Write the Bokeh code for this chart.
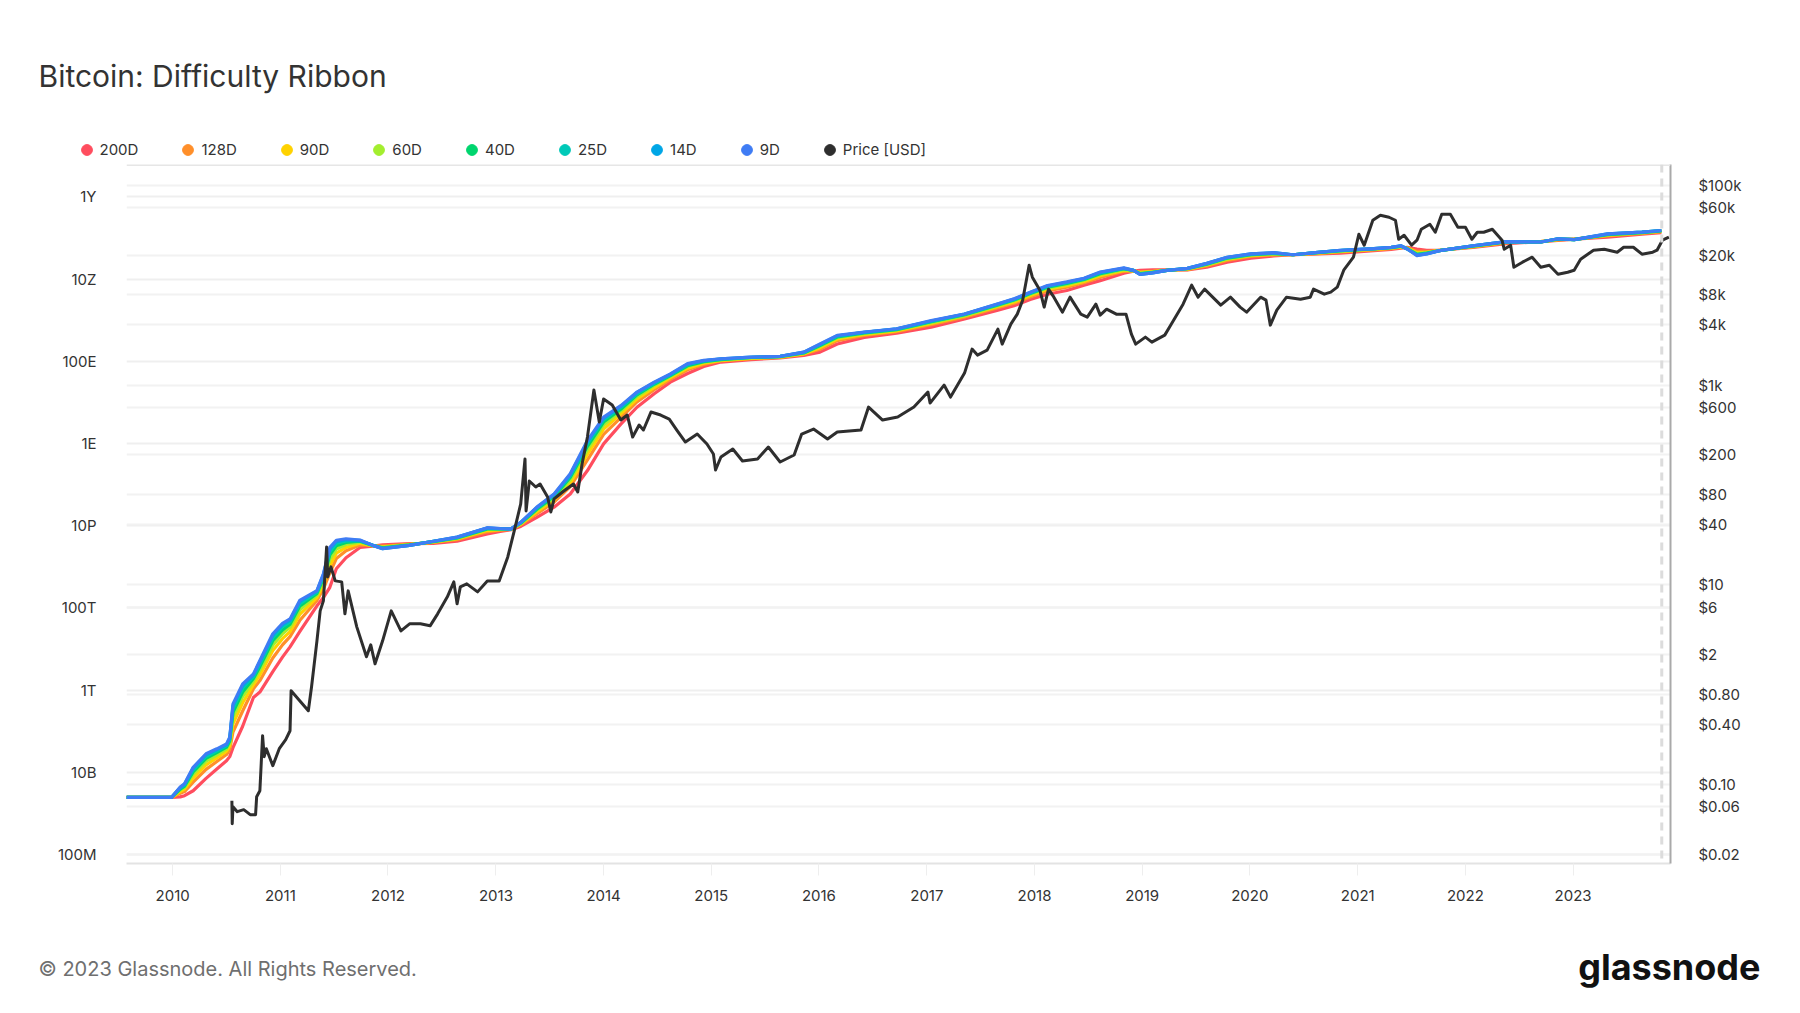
from datetime import datetime
import numpy as np
from bokeh.plotting import figure
from bokeh.layouts import column
from bokeh.models import (Range1d, LogScale, LogAxis, FixedTicker, Legend, LegendItem,
                          Label, Span, Grid, DatetimeTickFormatter)
from bokeh.embed import file_html
from bokeh.resources import INLINE

# ---------------- data ----------------
# dates as decimal years; values as log10 of the plotted quantity
ribbon_years = [
    2009.57, 2009.99, 2010.07, 2010.11, 2010.19, 2010.31, 2010.41, 2010.50, 2010.53, 2010.56,
    2010.65, 2010.75, 2010.81, 2010.93, 2011.02, 2011.09, 2011.18, 2011.34, 2011.40, 2011.46,
    2011.52, 2011.61, 2011.74, 2011.86, 2011.95, 2012.20, 2012.42, 2012.64, 2012.92, 2013.04,
    2013.14, 2013.23, 2013.38, 2013.54, 2013.69, 2013.85, 2014.00, 2014.16, 2014.31, 2014.47,
    2014.62, 2014.78, 2014.93, 2015.09, 2015.37, 2015.64, 2015.86, 2016.01, 2016.17, 2016.42,
    2016.72, 2017.04, 2017.35, 2017.66, 2017.81, 2017.96, 2018.12, 2018.30, 2018.46, 2018.61,
    2018.83, 2018.92, 2018.98, 2019.10, 2019.23, 2019.42, 2019.60, 2019.79, 2020.01, 2020.22,
    2020.40, 2020.63, 2020.84, 2021.15, 2021.31, 2021.40, 2021.46, 2021.55, 2021.64, 2021.76,
    2022.07, 2022.38, 2022.70, 2022.86, 2023.01, 2023.32, 2023.64, 2023.82]

ma_9d_log10 = [
    9.39, 9.39, 9.64, 9.72, 10.12, 10.45, 10.57, 10.69, 10.85, 11.66,
    12.15, 12.39, 12.72, 13.37, 13.62, 13.73, 14.18, 14.42, 14.83, 15.47,
    15.64, 15.68, 15.65, 15.52, 15.44, 15.52, 15.62, 15.72, 15.95, 15.93,
    15.92, 16.08, 16.45, 16.77, 17.26, 18.07, 18.64, 18.92, 19.25, 19.49,
    19.69, 19.94, 20.02, 20.06, 20.10, 20.12, 20.22, 20.42, 20.63, 20.71,
    20.79, 20.99, 21.15, 21.40, 21.52, 21.68, 21.84, 21.93, 22.02, 22.17,
    22.27, 22.21, 22.11, 22.15, 22.21, 22.26, 22.38, 22.53, 22.61, 22.64,
    22.59, 22.65, 22.70, 22.74, 22.77, 22.81, 22.73, 22.57, 22.61, 22.69,
    22.81, 22.91, 22.90, 22.98, 22.96, 23.10, 23.14, 23.18]

ma_14d_log10 = [
    9.39, 9.39, 9.63, 9.71, 10.10, 10.43, 10.55, 10.67, 10.83, 11.62,
    12.11, 12.37, 12.69, 13.33, 13.59, 13.70, 14.15, 14.41, 14.81, 15.43,
    15.61, 15.66, 15.64, 15.52, 15.44, 15.52, 15.62, 15.72, 15.94, 15.93,
    15.92, 16.08, 16.44, 16.76, 17.24, 18.04, 18.61, 18.90, 19.24, 19.48,
    19.68, 19.93, 20.01, 20.06, 20.10, 20.12, 20.22, 20.41, 20.62, 20.70,
    20.79, 20.98, 21.15, 21.39, 21.51, 21.67, 21.83, 21.92, 22.01, 22.16,
    22.26, 22.21, 22.11, 22.15, 22.21, 22.26, 22.38, 22.53, 22.61, 22.64,
    22.59, 22.65, 22.70, 22.74, 22.77, 22.81, 22.73, 22.58, 22.61, 22.69,
    22.81, 22.91, 22.90, 22.98, 22.96, 23.10, 23.14, 23.18]

ma_25d_log10 = [
    9.39, 9.39, 9.62, 9.69, 10.06, 10.39, 10.52, 10.65, 10.80, 11.55,
    12.05, 12.33, 12.64, 13.28, 13.54, 13.66, 14.10, 14.38, 14.77, 15.37,
    15.57, 15.63, 15.63, 15.52, 15.45, 15.52, 15.62, 15.71, 15.94, 15.92,
    15.92, 16.07, 16.43, 16.74, 17.21, 18.00, 18.58, 18.88, 19.21, 19.46,
    19.67, 19.92, 20.01, 20.05, 20.09, 20.12, 20.21, 20.40, 20.61, 20.70,
    20.78, 20.97, 21.14, 21.38, 21.50, 21.66, 21.82, 21.91, 22.00, 22.15,
    22.26, 22.21, 22.12, 22.16, 22.21, 22.26, 22.37, 22.52, 22.60, 22.63,
    22.59, 22.65, 22.69, 22.74, 22.77, 22.80, 22.73, 22.59, 22.62, 22.69,
    22.81, 22.91, 22.90, 22.98, 22.96, 23.09, 23.14, 23.18]

ma_40d_log10 = [
    9.39, 9.39, 9.59, 9.66, 10.01, 10.34, 10.48, 10.61, 10.76, 11.46,
    11.95, 12.28, 12.57, 13.20, 13.46, 13.60, 14.04, 14.35, 14.72, 15.29,
    15.51, 15.59, 15.62, 15.52, 15.46, 15.53, 15.61, 15.70, 15.92, 15.92,
    15.92, 16.06, 16.40, 16.71, 17.17, 17.93, 18.52, 18.83, 19.18, 19.44,
    19.65, 19.89, 19.99, 20.04, 20.09, 20.11, 20.20, 20.38, 20.59, 20.69,
    20.77, 20.96, 21.13, 21.37, 21.49, 21.65, 21.80, 21.89, 21.99, 22.13,
    22.25, 22.21, 22.13, 22.16, 22.21, 22.25, 22.36, 22.51, 22.59, 22.62,
    22.59, 22.64, 22.69, 22.73, 22.76, 22.80, 22.74, 22.60, 22.63, 22.69,
    22.80, 22.90, 22.90, 22.97, 22.96, 23.08, 23.13, 23.17]

ma_60d_log10 = [
    9.39, 9.39, 9.57, 9.63, 9.95, 10.27, 10.42, 10.57, 10.71, 11.34,
    11.84, 12.22, 12.49, 13.09, 13.37, 13.53, 13.95, 14.31, 14.66, 15.18,
    15.43, 15.54, 15.60, 15.51, 15.47, 15.53, 15.61, 15.69, 15.91, 15.91,
    15.91, 16.05, 16.38, 16.67, 17.11, 17.85, 18.45, 18.79, 19.14, 19.41,
    19.63, 19.87, 19.98, 20.04, 20.08, 20.11, 20.20, 20.36, 20.57, 20.67,
    20.76, 20.94, 21.11, 21.35, 21.47, 21.63, 21.78, 21.87, 21.97, 22.11,
    22.23, 22.20, 22.14, 22.17, 22.21, 22.25, 22.35, 22.49, 22.58, 22.62,
    22.59, 22.64, 22.68, 22.73, 22.76, 22.79, 22.74, 22.62, 22.64, 22.69,
    22.80, 22.90, 22.90, 22.97, 22.96, 23.08, 23.13, 23.17]

ma_90d_log10 = [
    9.39, 9.39, 9.53, 9.59, 9.86, 10.18, 10.35, 10.51, 10.64, 11.18,
    11.69, 12.13, 12.37, 12.96, 13.25, 13.42, 13.84, 14.25, 14.57, 15.03,
    15.33, 15.47, 15.57, 15.51, 15.48, 15.54, 15.60, 15.68, 15.88, 15.90,
    15.91, 16.04, 16.34, 16.63, 17.04, 17.74, 18.35, 18.72, 19.08, 19.36,
    19.60, 19.83, 19.95, 20.02, 20.07, 20.10, 20.18, 20.33, 20.54, 20.65,
    20.74, 20.92, 21.10, 21.33, 21.44, 21.60, 21.75, 21.84, 21.94, 22.08,
    22.21, 22.20, 22.16, 22.18, 22.21, 22.24, 22.34, 22.48, 22.57, 22.60,
    22.59, 22.63, 22.67, 22.72, 22.75, 22.78, 22.75, 22.64, 22.65, 22.70,
    22.79, 22.89, 22.91, 22.96, 22.97, 23.06, 23.12, 23.16]

ma_128d_log10 = [
    9.39, 9.39, 9.49, 9.53, 9.76, 10.07, 10.26, 10.43, 10.55, 10.98,
    11.49, 12.03, 12.23, 12.78, 13.10, 13.30, 13.69, 14.18, 14.46, 14.85,
    15.20, 15.39, 15.53, 15.51, 15.50, 15.55, 15.59, 15.66, 15.85, 15.89,
    15.91, 16.02, 16.29, 16.57, 16.95, 17.60, 18.22, 18.63, 19.01, 19.31,
    19.56, 19.79, 19.92, 20.01, 20.06, 20.09, 20.17, 20.29, 20.50, 20.63,
    20.72, 20.89, 21.07, 21.30, 21.41, 21.56, 21.71, 21.80, 21.91, 22.04,
    22.19, 22.20, 22.17, 22.19, 22.22, 22.23, 22.32, 22.45, 22.55, 22.59,
    22.59, 22.62, 22.66, 22.71, 22.74, 22.77, 22.76, 22.67, 22.67, 22.70,
    22.78, 22.88, 22.91, 22.95, 22.97, 23.05, 23.11, 23.15]

ma_200d_log10 = [
    9.39, 9.39, 9.40, 9.43, 9.55, 9.85, 10.08, 10.28, 10.38, 10.60,
    11.12, 11.82, 11.95, 12.45, 12.80, 13.05, 13.42, 14.05, 14.25, 14.50,
    14.95, 15.22, 15.47, 15.50, 15.53, 15.56, 15.57, 15.62, 15.80, 15.86,
    15.90, 15.98, 16.20, 16.45, 16.77, 17.34, 17.99, 18.47, 18.88, 19.21,
    19.49, 19.70, 19.87, 19.98, 20.04, 20.08, 20.14, 20.22, 20.42, 20.58,
    20.68, 20.83, 21.03, 21.24, 21.35, 21.50, 21.63, 21.72, 21.85, 21.96,
    22.14, 22.19, 22.21, 22.22, 22.22, 22.22, 22.29, 22.41, 22.51, 22.56,
    22.59, 22.61, 22.63, 22.69, 22.72, 22.75, 22.77, 22.73, 22.70, 22.70,
    22.77, 22.86, 22.91, 22.94, 22.97, 23.02, 23.09, 23.13]

price_years = [
    2010.550, 2010.553, 2010.560, 2010.600, 2010.660, 2010.720, 2010.770, 2010.780, 2010.810, 2010.835,
    2010.850, 2010.870, 2010.930, 2010.990, 2011.050, 2011.090, 2011.100, 2011.180, 2011.260, 2011.290,
    2011.340, 2011.370, 2011.400, 2011.430, 2011.440, 2011.470, 2011.510, 2011.570, 2011.600, 2011.630,
    2011.710, 2011.800, 2011.840, 2011.880, 2011.950, 2012.030, 2012.120, 2012.200, 2012.300, 2012.390,
    2012.460, 2012.550, 2012.610, 2012.640, 2012.670, 2012.730, 2012.830, 2012.920, 2013.030, 2013.110,
    2013.170, 2013.230, 2013.270, 2013.280, 2013.310, 2013.370, 2013.410, 2013.480, 2013.510, 2013.540,
    2013.630, 2013.720, 2013.760, 2013.800, 2013.850, 2013.910, 2013.960, 2014.000, 2014.080, 2014.160,
    2014.220, 2014.270, 2014.330, 2014.370, 2014.440, 2014.530, 2014.610, 2014.680, 2014.760, 2014.870,
    2014.960, 2015.020, 2015.040, 2015.090, 2015.200, 2015.290, 2015.430, 2015.530, 2015.640, 2015.770,
    2015.840, 2015.950, 2016.080, 2016.170, 2016.390, 2016.460, 2016.510, 2016.590, 2016.730, 2016.880,
    2017.010, 2017.030, 2017.160, 2017.220, 2017.350, 2017.420, 2017.470, 2017.560, 2017.660, 2017.700,
    2017.780, 2017.840, 2017.890, 2017.950, 2017.980, 2018.050, 2018.090, 2018.130, 2018.180, 2018.260,
    2018.330, 2018.430, 2018.490, 2018.570, 2018.610, 2018.670, 2018.760, 2018.850, 2018.900, 2018.940,
    2019.030, 2019.090, 2019.210, 2019.270, 2019.380, 2019.460, 2019.520, 2019.580, 2019.730, 2019.820,
    2019.910, 2019.970, 2020.100, 2020.150, 2020.190, 2020.250, 2020.340, 2020.470, 2020.560, 2020.590,
    2020.690, 2020.750, 2020.810, 2020.870, 2020.960, 2021.010, 2021.060, 2021.140, 2021.210, 2021.290,
    2021.350, 2021.380, 2021.430, 2021.500, 2021.550, 2021.590, 2021.670, 2021.720, 2021.780, 2021.860,
    2021.930, 2022.000, 2022.060, 2022.110, 2022.170, 2022.250, 2022.340, 2022.360, 2022.420, 2022.450,
    2022.530, 2022.620, 2022.700, 2022.780, 2022.860, 2022.950, 2023.010, 2023.070, 2023.190, 2023.290,
    2023.410, 2023.470, 2023.560, 2023.640, 2023.740, 2023.780, 2023.830, 2023.890]

price_usd_log10 = [
    -1.16, -1.39, -1.22, -1.27, -1.25, -1.30, -1.30, -1.12, -1.06, -0.51,
    -0.72, -0.64, -0.81, -0.64, -0.55, -0.46, -0.06, -0.16, -0.26, -0.02,
    0.44, 0.74, 0.84, 1.38, 1.08, 1.18, 1.04, 1.03, 0.71, 0.94,
    0.58, 0.28, 0.40, 0.21, 0.44, 0.74, 0.54, 0.61, 0.61, 0.59,
    0.71, 0.88, 1.03, 0.81, 0.98, 1.01, 0.93, 1.04, 1.04, 1.28,
    1.54, 1.81, 2.26, 1.74, 2.04, 1.98, 2.01, 1.88, 1.73, 1.86,
    1.94, 2.01, 1.93, 2.21, 2.48, 2.95, 2.63, 2.86, 2.80, 2.65,
    2.70, 2.48, 2.60, 2.55, 2.73, 2.70, 2.66, 2.55, 2.43, 2.51,
    2.41, 2.31, 2.15, 2.28, 2.36, 2.24, 2.26, 2.38, 2.23, 2.30,
    2.51, 2.56, 2.46, 2.53, 2.55, 2.78, 2.73, 2.65, 2.68, 2.78,
    2.93, 2.82, 3.00, 2.88, 3.12, 3.36, 3.30, 3.35, 3.56, 3.41,
    3.61, 3.71, 3.85, 4.20, 4.08, 3.95, 3.78, 3.96, 3.88, 3.73,
    3.88, 3.71, 3.68, 3.81, 3.70, 3.76, 3.71, 3.71, 3.51, 3.41,
    3.48, 3.43, 3.50, 3.61, 3.81, 4.00, 3.88, 3.96, 3.80, 3.88,
    3.78, 3.73, 3.88, 3.85, 3.60, 3.75, 3.88, 3.86, 3.88, 3.96,
    3.91, 3.93, 3.98, 4.15, 4.28, 4.51, 4.40, 4.65, 4.70, 4.68,
    4.65, 4.46, 4.50, 4.40, 4.45, 4.56, 4.61, 4.53, 4.71, 4.71,
    4.58, 4.58, 4.46, 4.53, 4.53, 4.56, 4.45, 4.36, 4.40, 4.18,
    4.23, 4.28, 4.18, 4.20, 4.11, 4.13, 4.15, 4.26, 4.35, 4.36,
    4.33, 4.38, 4.38, 4.31, 4.33, 4.35, 4.45, 4.48]

series_names = ["200D", "128D", "90D", "60D", "40D", "25D", "14D", "9D"]
series_colors = ["#ff4d5e", "#ff8f2a", "#ffd200", "#a3ee2e", "#00d56e", "#00c9b8", "#00a6e6", "#3f7cf4"]
series_values = [ma_200d_log10, ma_128d_log10, ma_90d_log10, ma_60d_log10,
                 ma_40d_log10, ma_25d_log10, ma_14d_log10, ma_9d_log10]
price_name = "Price [USD]"
price_color = "#2e2e2e"

tick_years = list(range(2010, 2024))
left_ticks = [1e8, 1e10, 1e12, 1e14, 1e16, 1e18, 1e20, 1e22, 1e24]
left_tick_labels = ["100M", "10B", "1T", "100T", "10P", "1E", "100E", "10Z", "1Y"]
price_ticks = [0.02, 0.06, 0.1, 0.4, 0.8, 2.0, 6.0, 10.0, 40.0, 80.0, 200.0, 600.0,
               1000.0, 4000.0, 8000.0, 20000.0, 60000.0, 100000.0]
price_tick_labels = ["$0.02", "$0.06", "$0.10", "$0.40", "$0.80", "$2", "$6", "$10", "$40", "$80",
                     "$200", "$600", "$1k", "$4k", "$8k", "$20k", "$60k", "$100k"]

TITLE = "Bitcoin: Difficulty Ribbon"
FOOTER = "© 2023 Glassnode. All Rights Reserved."
LOGO = "glassnode"


def dec_to_dt(v):
    y = int(v)
    start = datetime(y, 1, 1)
    end = datetime(y + 1, 1, 1)
    return start + (end - start) * (v - y)


FONT = "Inter"
TXT = "#333333"
W = 1784
HEAD_H = 164
MAIN_H = 750
FOOT_H = 83


def blank_fig(h, y0):
    f = figure(width=W, height=h, x_range=Range1d(0, W), y_range=Range1d(y0 + h, y0),
               x_axis_location=None, y_axis_location=None, output_backend="svg",
               toolbar_location=None, min_border=0, frame_align=False)
    f.outline_line_color = None
    f.xgrid.visible = False
    f.ygrid.visible = False
    f.background_fill_color = "white"
    f.border_fill_color = "white"
    return f


# ---------------- header: title + legend ----------------
head = blank_fig(HEAD_H, 0)
head.add_layout(Label(x=38, y=75, text=TITLE, text_font=FONT, text_font_size="30px",
                      text_color=TXT, text_baseline="alphabetic"))
items = []
for name, col in zip(series_names + [price_name], series_colors + [price_color]):
    # legend swatch renderers: one point parked outside the visible header area
    r = head.scatter(x=[-500], y=[-500], marker="circle", size=11, fill_color=col, line_color=col)
    items.append(LegendItem(label=name, renderers=[r]))
legend = Legend(items=items, orientation="horizontal", location=(72.5, 1.5),
                label_text_font=FONT, label_text_font_size="15px", label_text_color=TXT,
                glyph_width=27, glyph_height=27, label_standoff=0, spacing=36,
                padding=0, margin=0, border_line_color=None, background_fill_alpha=0)
head.add_layout(legend)

# ---------------- main chart ----------------
ribbon_x = [dec_to_dt(v) for v in ribbon_years]
price_x = [dec_to_dt(v) for v in price_years]

p = figure(width=W, height=MAIN_H, x_axis_type="datetime", y_axis_type="log",
           x_range=Range1d(dec_to_dt(2009.571), dec_to_dt(2023.905)),
           y_range=Range1d(10 ** 7.78, 10 ** 24.786),
           output_backend="svg", toolbar_location=None, frame_align=False,
           min_border_left=126, min_border_right=114, min_border_top=0,
           min_border_bottom=MAIN_H - 699)
p.outline_line_color = None
p.background_fill_color = "white"
p.border_fill_color = "white"

p.extra_y_ranges = {"price": Range1d(10 ** -1.789, 10 ** 5.208)}
p.extra_y_scales = {"price": LogScale()}

p.xgrid.grid_line_color = None
p.ygrid.ticker = FixedTicker(ticks=left_ticks)
p.ygrid.grid_line_color = "#efefef"
p.ygrid.grid_line_width = 2
price_grid = Grid(dimension=1, ticker=FixedTicker(ticks=price_ticks), y_range_name="price",
                  grid_line_color="#f2f2f2", grid_line_width=2)
p.add_layout(price_grid)

ya = p.yaxis[0]
ya.ticker = FixedTicker(ticks=left_ticks)
ya.major_label_overrides = {t: s for t, s in zip(left_ticks, left_tick_labels)}
ya.axis_line_color = None
ya.major_tick_line_color = None
ya.minor_tick_line_color = None
ya.major_label_standoff = 24
ya.major_label_text_font = FONT
ya.major_label_text_font_size = "15px"
ya.major_label_text_color = TXT

ra = LogAxis(y_range_name="price", ticker=FixedTicker(ticks=price_ticks))
ra.major_label_overrides = {t: s for t, s in zip(price_ticks, price_tick_labels)}
ra.axis_line_color = "#a9a9a9"
ra.axis_line_width = 2
ra.major_tick_line_color = None
ra.minor_tick_line_color = None
ra.major_label_standoff = 22
ra.major_label_text_font = FONT
ra.major_label_text_font_size = "15px"
ra.major_label_text_color = TXT
p.add_layout(ra, "right")

xa = p.xaxis[0]
xa.ticker = FixedTicker(ticks=[dec_to_dt(y).timestamp() * 1000 for y in tick_years])
xa.formatter = DatetimeTickFormatter(years="%Y", months="%Y", days="%Y")
xa.axis_line_color = "#e3e3e3"
xa.axis_line_width = 2
xa.major_tick_line_color = "#eeeeee"
xa.major_tick_line_width = 1
xa.major_tick_out = 12
xa.major_tick_in = 0
xa.minor_tick_line_color = None
xa.major_label_standoff = 14
xa.major_label_text_font = FONT
xa.major_label_text_font_size = "15px"
xa.major_label_text_color = TXT

p.add_layout(Span(location=10 ** 24.786, dimension="width", line_color="#e6e6e6", line_width=3))
p.add_layout(Span(location=dec_to_dt(2023.824), dimension="height", line_color="#dcdcdc",
                  line_width=3, line_dash="8 6"))

for vals, col in zip(series_values, series_colors):
    p.line(ribbon_x, 10 ** np.array(vals), line_color=col, line_width=3.2, line_join="round")

p.line(price_x, 10 ** np.array(price_usd_log10), y_range_name="price",
       line_color=price_color, line_width=3, line_join="round")

# ---------------- footer ----------------
foot = blank_fig(FOOT_H, HEAD_H + MAIN_H)
foot.add_layout(Label(x=38, y=968, text=FOOTER, text_font=FONT, text_font_size="20px",
                      text_color="#6f6f6f", text_baseline="middle"))
foot.add_layout(Label(x=1760, y=966, text=LOGO, text_font=FONT, text_font_size="36px",
                      text_font_style="bold", text_color="#111111", text_align="right",
                      text_baseline="middle"))

layout = column(head, p, foot, spacing=0)
open("out.html", "w").write(file_html(layout, INLINE))
